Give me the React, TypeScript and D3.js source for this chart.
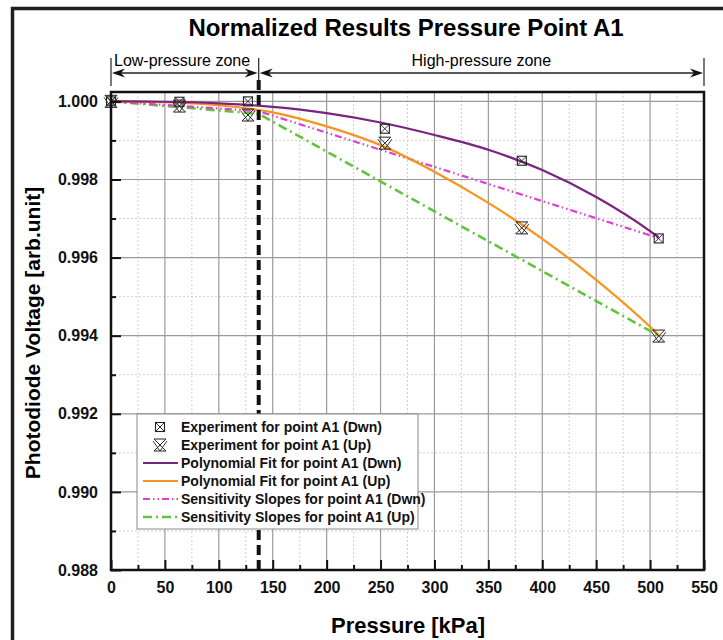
import { useEffect, useRef } from 'react';
import * as d3 from 'd3';

// measured pressures [kPa]
const pressures = [0, 63.5, 127, 254, 381, 508];
const expDwn = [1.0, 0.99999, 1.0, 0.9993, 0.99848, 0.99649];
const expUp = [1.0, 0.99988, 0.99965, 0.99893, 0.99676, 0.99399];

// polynomial fits
const fitPressures = [0, 50, 100, 150, 200, 250, 300, 350, 400, 450, 500, 508];
const fitDwn = [1.0, 0.99999, 0.99995, 0.99986, 0.9997, 0.99946, 0.99914, 0.99876, 0.99824, 0.99755, 0.99668, 0.99652];
const fitUp = [1.0, 0.99998, 0.9999, 0.99972, 0.99936, 0.99888, 0.9982, 0.9974, 0.99648, 0.99543, 0.99423, 0.99402];

// sensitivity slopes (low zone / high zone segments)
const slopePressures = [0, 137, 508];
const slopeDwn = [1.0, 0.99975, 0.9965];
const slopeUp = [1.0, 0.99968, 0.994];

const xTickValues = [0, 50, 100, 150, 200, 250, 300, 350, 400, 450, 500, 550];
const xMinorValues = [25, 75, 125, 175, 225, 275, 325, 375, 425, 475, 525];
const yTickValues = [0.988, 0.99, 0.992, 0.994, 0.996, 0.998, 1.0];
const yMinorValues = [0.989, 0.991, 0.993, 0.995, 0.997, 0.999];

const zoneBoundary = 137;
const zones = [
  { label: 'Low-pressure zone', from: 0, to: zoneBoundary },
  { label: 'High-pressure zone', from: zoneBoundary, to: 550 }
];

const legendItems = [
  { label: 'Experiment for point A1 (Dwn)', kind: 'square' },
  { label: 'Experiment for point A1 (Up)', kind: 'hourglass' },
  { label: 'Polynomial Fit for point A1 (Dwn)', kind: 'fitDwn' },
  { label: 'Polynomial Fit for point A1 (Up)', kind: 'fitUp' },
  { label: 'Sensitivity Slopes for point A1 (Dwn)', kind: 'slopeDwn' },
  { label: 'Sensitivity Slopes for point A1 (Up)', kind: 'slopeUp' }
];

const FONT = '"Liberation Sans", Arial, sans-serif';
const PURPLE = '#7a237f';
const ORANGE = '#f7941d';
const MAGENTA = '#dd3fd0';
const GREEN = '#62c43a';

const lineStyles: Record<string, { color: string; dash: string | null; width: number }> = {
  fitDwn: { color: PURPLE, dash: null, width: 2.2 },
  fitUp: { color: ORANGE, dash: null, width: 2.2 },
  slopeDwn: { color: MAGENTA, dash: '7,3,1.5,3,1.5,3', width: 2.2 },
  slopeUp: { color: GREEN, dash: '9,4,2,4', width: 2.6 }
};

function drawSquare(g: d3.Selection<SVGGElement, unknown, null, undefined>, cx: number, cy: number) {
  const s = 4.5;
  g.append('rect')
    .attr('x', cx - s).attr('y', cy - s).attr('width', 2 * s).attr('height', 2 * s)
    .attr('fill', 'none').attr('stroke', '#222').attr('stroke-width', 1.1);
  g.append('path')
    .attr('d', `M${cx - s},${cy - s}L${cx + s},${cy + s}M${cx + s},${cy - s}L${cx - s},${cy + s}`)
    .attr('stroke', '#222').attr('stroke-width', 0.9);
}

function drawHourglass(g: d3.Selection<SVGGElement, unknown, null, undefined>, cx: number, cy: number) {
  const s = 6;
  g.append('path')
    .attr('d', `M${cx - s},${cy - s}L${cx + s},${cy - s}L${cx - s},${cy + s}L${cx + s},${cy + s}Z`)
    .attr('fill', 'none').attr('stroke', '#222').attr('stroke-width', 1);
  g.append('path')
    .attr('d', `M${cx - s - 1},${cy - s + 2}L${cx},${cy + s}L${cx + s + 1},${cy - s + 2}`)
    .attr('fill', 'none').attr('stroke', '#222').attr('stroke-width', 0.9);
}

export default function App() {
  const svgRef = useRef<SVGSVGElement>(null);
  const width = 723;
  const height = 640;
  const margin = { top: 92, right: 19, bottom: 70, left: 111 };

  useEffect(() => {
    if (!svgRef.current) return;
    const root = d3.select(svgRef.current);
    root.selectAll('*').remove();

    const x = d3.scaleLinear().domain([0, 550]).range([margin.left, width - margin.right]);
    const y = d3.scaleLinear().domain([0.988, 1.00024]).range([height - margin.bottom, margin.top]);
    const [x0, x1] = x.range();
    const [yb, yt] = y.range();

    root.append('rect').attr('width', width).attr('height', height).attr('fill', '#fff');

    // outer figure border
    root.append('rect')
      .attr('x', 12.5).attr('y', 8.5).attr('width', 900).attr('height', 900)
      .attr('fill', 'none').attr('stroke', '#231f20').attr('stroke-width', 3.5);

    // title
    root.append('text')
      .attr('x', 406).attr('y', 36)
      .attr('text-anchor', 'middle')
      .style('font-family', FONT).style('font-weight', 'bold').style('font-size', '24px')
      .text('Normalized Results Pressure Point A1');

    // grid
    const grid = root.append('g');
    grid.selectAll('.gx-minor').data(xMinorValues).enter().append('line')
      .attr('x1', (d) => x(d)).attr('x2', (d) => x(d)).attr('y1', yb).attr('y2', yt)
      .attr('stroke', '#cfcfcf').attr('stroke-dasharray', '2,2');
    grid.selectAll('.gy-minor').data(yMinorValues).enter().append('line')
      .attr('y1', (d) => y(d)).attr('y2', (d) => y(d)).attr('x1', x0).attr('x2', x1)
      .attr('stroke', '#cfcfcf').attr('stroke-dasharray', '2,2');
    grid.selectAll('.gx').data(xTickValues).enter().append('line')
      .attr('x1', (d) => x(d)).attr('x2', (d) => x(d)).attr('y1', yb).attr('y2', yt)
      .attr('stroke', '#9a9a9a').attr('stroke-width', 1.2);
    grid.selectAll('.gy').data(yTickValues).enter().append('line')
      .attr('y1', (d) => y(d)).attr('y2', (d) => y(d)).attr('x1', x0).attr('x2', x1)
      .attr('stroke', '#9a9a9a').attr('stroke-width', 1.2);

    // curves
    const fitLine = d3.line<number>()
      .x((_, i) => x(fitPressures[i]))
      .y((d) => y(d))
      .curve(d3.curveMonotoneX);
    const slopeLine = d3.line<number>()
      .x((_, i) => x(slopePressures[i]))
      .y((d) => y(d));

    const curves = root.append('g');
    curves.append('path').datum(slopeUp).attr('d', slopeLine)
      .attr('fill', 'none').attr('stroke', GREEN).attr('stroke-width', lineStyles.slopeUp.width)
      .attr('stroke-dasharray', lineStyles.slopeUp.dash);
    curves.append('path').datum(slopeDwn).attr('d', slopeLine)
      .attr('fill', 'none').attr('stroke', MAGENTA).attr('stroke-width', lineStyles.slopeDwn.width)
      .attr('stroke-dasharray', lineStyles.slopeDwn.dash);
    curves.append('path').datum(fitUp).attr('d', fitLine)
      .attr('fill', 'none').attr('stroke', ORANGE).attr('stroke-width', lineStyles.fitUp.width);
    curves.append('path').datum(fitDwn).attr('d', fitLine)
      .attr('fill', 'none').attr('stroke', PURPLE).attr('stroke-width', lineStyles.fitDwn.width);

    // markers
    const markers = root.append('g');
    pressures.forEach((p, i) => {
      drawSquare(markers, x(p), y(expDwn[i]));
      drawHourglass(markers, x(p), y(expUp[i]));
    });

    // zone boundary
    root.append('line')
      .attr('x1', x(zoneBoundary)).attr('x2', x(zoneBoundary))
      .attr('y1', 80).attr('y2', yb)
      .attr('stroke', '#111').attr('stroke-width', 4).attr('stroke-dasharray', '10,5');

    // zone annotation
    const ann = root.append('g');
    const arrowY = 73;
    [0, zoneBoundary, 550].forEach((v) => {
      ann.append('line')
        .attr('x1', x(v)).attr('x2', x(v)).attr('y1', 58).attr('y2', 86)
        .attr('stroke', '#222').attr('stroke-width', 1.2);
    });
    zones.forEach((z) => {
      const a = x(z.from) + 1;
      const b = x(z.to) - 1;
      ann.append('line')
        .attr('x1', a + 8).attr('x2', b - 8).attr('y1', arrowY).attr('y2', arrowY)
        .attr('stroke', '#222').attr('stroke-width', 1.3);
      ann.append('path')
        .attr('d', `M${a},${arrowY}L${a + 13},${arrowY - 4.5}L${a + 9},${arrowY}L${a + 13},${arrowY + 4.5}Z`)
        .attr('fill', '#111');
      ann.append('path')
        .attr('d', `M${b},${arrowY}L${b - 13},${arrowY - 4.5}L${b - 9},${arrowY}L${b - 13},${arrowY + 4.5}Z`)
        .attr('fill', '#111');
    });
    ann.append('text')
      .attr('x', x(0) + 3).attr('y', 66)
      .style('font-family', FONT).style('font-size', '16px')
      .text(zones[0].label);
    ann.append('text')
      .attr('x', (x(zoneBoundary) + x(550)) / 2).attr('y', 66)
      .attr('text-anchor', 'middle')
      .style('font-family', FONT).style('font-size', '16px')
      .text(zones[1].label);

    // axes
    const xAxis = root.append('g').attr('transform', `translate(0,${yb})`)
      .call(d3.axisBottom(x).tickValues(xTickValues).tickSize(-10).tickPadding(12).tickFormat(d3.format('d')));
    root.append('g').attr('transform', `translate(0,${yb})`)
      .call(d3.axisBottom(x).tickValues(xMinorValues).tickSize(-5).tickFormat(() => ''));
    const yAxis = root.append('g').attr('transform', `translate(${x0},0)`)
      .call(d3.axisLeft(y).tickValues(yTickValues).tickSize(-10).tickPadding(13).tickFormat(d3.format('.3f')));
    root.append('g').attr('transform', `translate(${x0},0)`)
      .call(d3.axisLeft(y).tickValues(yMinorValues).tickSize(-5).tickFormat(() => ''));
    root.selectAll('.domain').remove();
    root.selectAll('.tick line').attr('stroke', '#111').attr('stroke-width', 2);
    [xAxis, yAxis].forEach((ax) =>
      ax.selectAll('text')
        .style('font-family', FONT).style('font-weight', 'bold').style('font-size', '16px')
        .attr('fill', '#111')
    );

    // plot frame
    root.append('rect')
      .attr('x', x0).attr('y', yt).attr('width', x1 - x0).attr('height', yb - yt)
      .attr('fill', 'none').attr('stroke', '#111').attr('stroke-width', 2.5);

    // axis titles
    root.append('text')
      .attr('x', 408).attr('y', 633)
      .attr('text-anchor', 'middle')
      .style('font-family', FONT).style('font-weight', 'bold').style('font-size', '22px')
      .text('Pressure [kPa]');
    root.append('text')
      .attr('transform', 'translate(40,333) rotate(-90)')
      .attr('text-anchor', 'middle')
      .style('font-family', FONT).style('font-weight', 'bold').style('font-size', '21px')
      .text('Photodiode Voltage [arb.unit]');

    // legend
    const lg = root.append('g').attr('transform', 'translate(137,414)');
    lg.append('rect')
      .attr('width', 281).attr('height', 115)
      .attr('fill', '#fff').attr('stroke', '#8a8a8a').attr('stroke-width', 1);
    legendItems.forEach((item, i) => {
      const cy = 13 + i * 18;
      if (item.kind === 'square') drawSquare(lg, 23, cy);
      else if (item.kind === 'hourglass') drawHourglass(lg, 23, cy);
      else {
        const st = lineStyles[item.kind];
        lg.append('line')
          .attr('x1', 6).attr('x2', 41).attr('y1', cy).attr('y2', cy)
          .attr('stroke', st.color).attr('stroke-width', st.width)
          .attr('stroke-dasharray', st.dash);
      }
      lg.append('text')
        .attr('x', 44).attr('y', cy + 5)
        .style('font-family', FONT).style('font-weight', 'bold').style('font-size', '14px')
        .attr('fill', '#111')
        .text(item.label);
    });
  }, []);

  return (
    <svg
      ref={svgRef}
      width={width}
      height={height}
      style={{ position: 'absolute', left: 0, top: 0, display: 'block' }}
    />
  );
}
